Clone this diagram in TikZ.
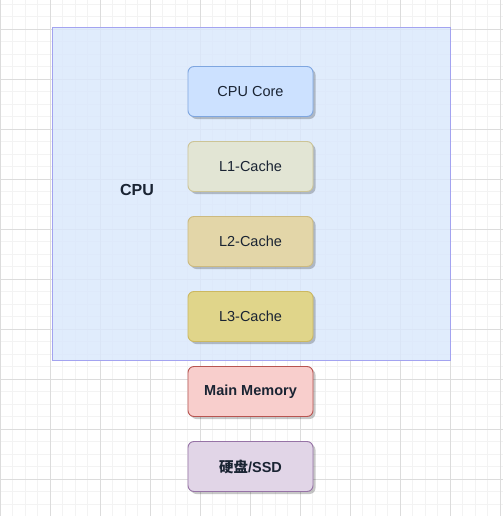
\documentclass[tikz,border=0pt]{standalone}
\usepackage{fontspec}
\setmainfont{Liberation Sans}
\newfontfamily\cjk{Noto Sans CJK SC}
\usetikzlibrary{shadows}
\definecolor{gridminor}{HTML}{F3F3F3}
\definecolor{gridmajor}{HTML}{DCDCDC}
\definecolor{cpufill}{HTML}{DAE8FC}
\definecolor{cpuline}{HTML}{A3A3F0}
\definecolor{txt}{HTML}{1A2433}
\tikzset{
  memblock/.style={draw, line width=0.9pt, rounded corners=6pt,
    minimum width=125pt, minimum height=50pt, inner sep=0pt,
    text=txt, font=\fontsize{14.5}{16}\selectfont,
    drop shadow={shadow xshift=2.5pt, shadow yshift=-2.5pt, opacity=0.22, fill=black}},
  gminor/.style={draw=gridminor, line width=0.8pt},
  gmajor/.style={draw=gridmajor, line width=0.8pt},
}
\begin{document}
\begin{tikzpicture}[x=1pt,y=-1pt]
\useasboundingbox (0,0) rectangle (503,516);
\fill[white] (0,0) rectangle (503,516);
% grid
\foreach \x in {12.5,25,...,503} \draw[gminor] (\x,0) -- (\x,516);
\foreach \y in {4,16.5,...,516} \draw[gminor] (0,\y) -- (503,\y);
\foreach \x in {0.5,50,100,...,500} \draw[gmajor] (\x,0) -- (\x,516);
\foreach \y in {29,79,...,516} \draw[gmajor] (0,\y) -- (503,\y);
% CPU container
\node[draw=cpuline, fill=cpufill, fill opacity=0.82, draw opacity=1, line width=0.8pt,
  minimum width=398.5pt, minimum height=332.5pt, inner sep=0pt] (cpu) at (251.25,193.75) {};
\node[font=\fontsize{16}{18}\selectfont\bfseries, text=txt] (cpulabel) at (137,190) {CPU};
% blocks
\node[memblock, fill={rgb,255:red,204;green,225;blue,255}, draw={rgb,255:red,126;green,166;blue,224}] (core) at (250.5,91.5) {CPU Core};
\node[memblock, fill={rgb,255:red,226;green,229;blue,212}, draw={rgb,255:red,204;green,196;blue,150}] (l1) at (250.5,166.5) {L1-Cache};
\node[memblock, fill={rgb,255:red,227;green,214;blue,168}, draw={rgb,255:red,204;green,186;blue,128}] (l2) at (250.5,241.5) {L2-Cache};
\node[memblock, fill={rgb,255:red,224;green,213;blue,138}, draw={rgb,255:red,204;green,184;blue,96}] (l3) at (250.5,316.5) {L3-Cache};
\node[memblock, fill={rgb,255:red,248;green,206;blue,204}, draw={rgb,255:red,184;green,84;blue,80}, font=\fontsize{14.5}{16}\selectfont\bfseries] (mem) at (250.5,391.5) {Main Memory};
\node[memblock, fill={rgb,255:red,225;green,213;blue,231}, draw={rgb,255:red,150;green,115;blue,166}, font=\fontsize{14.5}{16}\selectfont\bfseries] (ssd) at (250.5,466.5) {{\cjk 硬盘}/SSD};
\end{tikzpicture}
\end{document}
